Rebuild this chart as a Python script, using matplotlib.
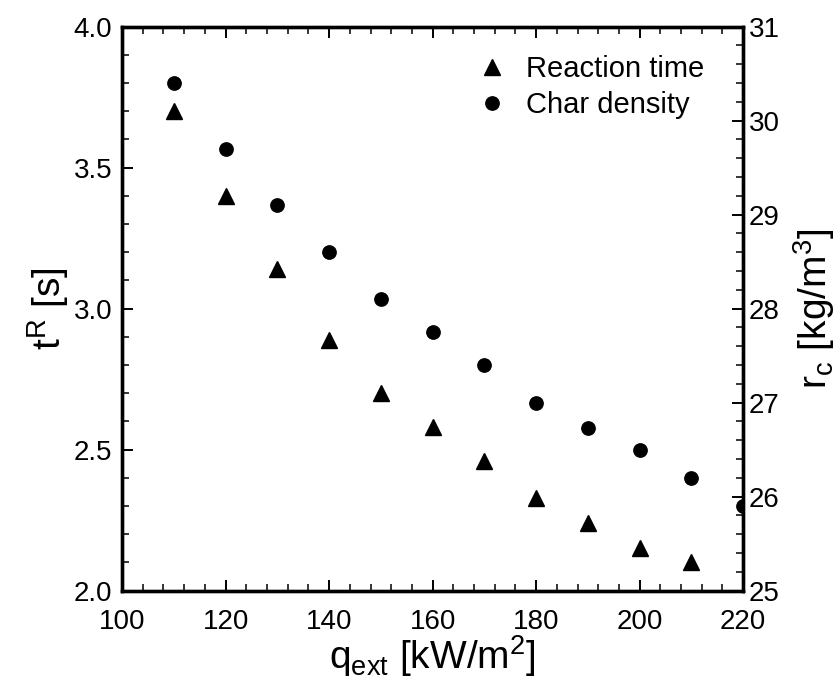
import matplotlib
matplotlib.use("Agg")
import matplotlib.pyplot as plt
from matplotlib.ticker import MultipleLocator, FormatStrFormatter

plt.rcParams['font.family'] = ['Liberation Sans', 'DejaVu Sans']
plt.rcParams['mathtext.fontset'] = 'custom'
plt.rcParams['mathtext.rm'] = 'Liberation Sans'
plt.rcParams['mathtext.it'] = 'Liberation Sans'

q_time = [110, 120, 130, 140, 150, 160, 170, 180, 190, 200, 210]
reaction_time = [3.70, 3.40, 3.14, 2.89, 2.70, 2.58, 2.46, 2.33, 2.24, 2.15, 2.10]

q_dens = [110, 120, 130, 140, 150, 160, 170, 180, 190, 200, 210, 220]
char_density = [30.4, 29.7, 29.1, 28.6, 28.1, 27.75, 27.4, 27.0, 26.73, 26.5, 26.2, 25.9]

fig = plt.figure(figsize=(8.36, 6.81), dpi=100)
ax = fig.add_axes([0.146, 0.1326, 0.743, 0.8282])
ax2 = ax.twinx()

h1, = ax.plot(q_time, reaction_time, linestyle='none', marker='^', color='black',
              markersize=11, label='Reaction time')
h2, = ax2.plot(q_dens, char_density, linestyle='none', marker='o', color='black',
               markersize=9.6, label='Char density')

ax.set_xlim(100, 220)
ax.set_ylim(2.0, 4.0)
ax2.set_ylim(25, 31)

ax.xaxis.set_major_locator(MultipleLocator(20))
ax.xaxis.set_minor_locator(MultipleLocator(4))
ax.yaxis.set_major_locator(MultipleLocator(0.5))
ax.yaxis.set_minor_locator(MultipleLocator(0.1))
ax2.yaxis.set_major_locator(MultipleLocator(1))
ax2.yaxis.set_minor_locator(MultipleLocator(0.2))
ax.yaxis.set_major_formatter(FormatStrFormatter('%.1f'))

for a in (ax, ax2):
    for s in a.spines.values():
        s.set_linewidth(2.4)
ax.tick_params(axis='x', which='major', direction='in', length=8, width=1.4,
               labelsize=20, top=True, pad=13)
ax.tick_params(axis='y', which='major', direction='in', length=8, width=1.4,
               labelsize=20, right=False, pad=7)
ax.tick_params(axis='both', which='minor', direction='in', length=5, width=1.1,
               top=True, right=False)
ax2.tick_params(axis='y', which='major', direction='in', length=8, width=1.4,
                labelsize=20, pad=4)
ax2.tick_params(axis='y', which='minor', direction='in', length=5, width=1.1)

ax.set_xlabel(r'q$_{\mathrm{ext}}$ [kW/m$^{2}$]', fontsize=28, labelpad=-1)
ax.set_ylabel(r't$^{\mathrm{R}}$ [s]', fontsize=28, labelpad=2)
ax2.set_ylabel(r'r$_{\mathrm{c}}$ [kg/m$^{3}$]', fontsize=28, labelpad=8)

ax2.legend([h1, h2], ['Reaction time', 'Char density'], loc='upper right',
           bbox_to_anchor=(0.965, 0.98), frameon=False, fontsize=21,
           handlelength=0.8, handletextpad=0.75, labelspacing=0.25, borderaxespad=0.2)

fig.savefig('out.png', dpi=100)
